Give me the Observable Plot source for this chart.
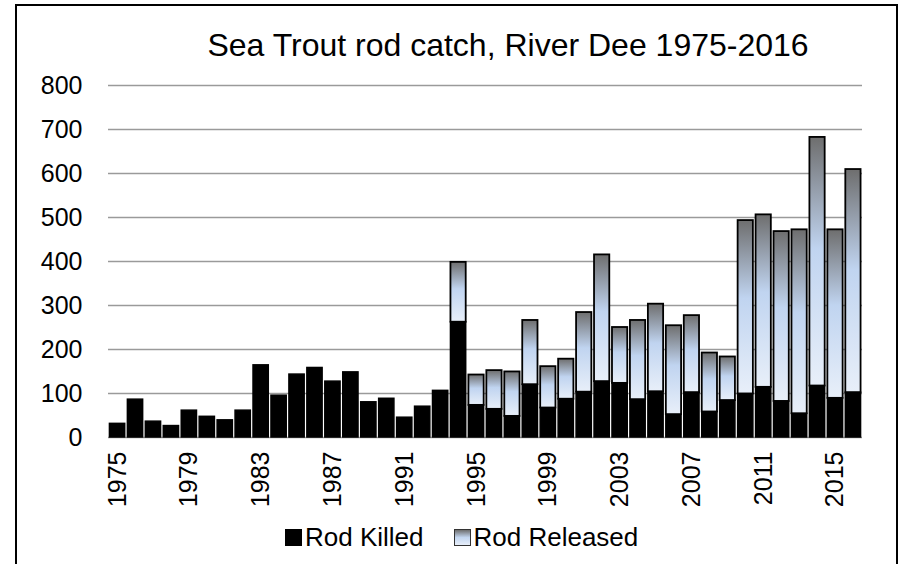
<!DOCTYPE html>
<html>
<head>
<meta charset="utf-8">
<script src="https://cdn.jsdelivr.net/npm/d3@7"></script>
<script src="https://cdn.jsdelivr.net/npm/@observablehq/plot@0.6"></script>
<style>
  html, body { margin: 0; padding: 0; background: #fff; overflow: hidden; }
  #wrap { position: relative; width: 901px; height: 564px; font-family: "Liberation Sans", Arial, sans-serif; }
  #frame { position: absolute; left: 15px; top: 4px; width: 883px; height: 620px; border: 2px solid #000; box-sizing: border-box; }
  #title { position: absolute; left: 0; width: 1016px; top: 27px; text-align: center; font-size: 32px; color: #000; white-space: nowrap; }
  #chart { position: absolute; left: 0; top: 0; }
  #legend { position: absolute; top: 522px; left: 285px; font-size: 26px; display: flex; align-items: center; white-space: nowrap; color: #000; }
  .sw { display: inline-block; width: 17px; height: 17px; margin-right: 3px; box-sizing: border-box; }
</style>
</head>
<body>
<div id="wrap">
  <div id="frame"></div>
  <div id="title">Sea Trout rod catch, River Dee 1975-2016</div>
  <div id="chart"></div>
  <div id="legend">
    <span class="sw" style="background:#000;border:1px solid #000"></span><span>Rod Killed</span>
    <span style="display:inline-block;width:30px"></span>
    <span class="sw" style="background:linear-gradient(#6e6e6e,#c3d6f0 50%,#e7eef9);border:1.5px solid #333"></span><span>Rod Released</span>
  </div>
</div>
<script>
const years = d3.range(1975, 2017);
const killed = [31, 86, 36, 26, 61, 47, 39, 61, 164, 95, 143, 158, 127, 148, 80, 88, 45, 70, 106, 262,
  73, 64, 48, 120, 67, 87, 103, 127, 123, 86, 104, 52, 102, 58, 84, 99, 114, 82, 54, 117, 89, 102];
const total = [31, 86, 36, 26, 61, 47, 39, 61, 164, 95, 143, 158, 127, 148, 80, 88, 45, 70, 106, 398,
  142, 152, 149, 266, 161, 178, 284, 415, 250, 266, 303, 254, 277, 192, 183, 493, 506, 468, 472, 682, 472, 609];
const released = total.map((t, i) => t - killed[i]);
const yTicks = [0, 100, 200, 300, 400, 500, 600, 700, 800];
const xTicks = [1975, 1979, 1983, 1987, 1991, 1995, 1999, 2003, 2007, 2011, 2015];

const rows = years.map((y, i) => ({year: y, killed: killed[i], released: released[i], total: killed[i] + released[i]}));

const plot = Plot.plot({
  width: 901,
  height: 520,
  marginLeft: 108,
  marginRight: 39,
  marginTop: 85,
  marginBottom: 83,
  style: {fontFamily: "'Liberation Sans', Arial, sans-serif", background: "transparent", color: "#000"},
  x: {type: "band", domain: years, paddingInner: 0.15, paddingOuter: 0.08},
  y: {domain: [0, 800]},
  marks: [
    Plot.ruleY(yTicks, {stroke: "#9a9a9a", strokeWidth: 1.3}),
    Plot.barY(rows, {x: "year", y1: 0, y2: "killed", fill: "#000", stroke: "#000", strokeWidth: 1.5}),
    Plot.barY(rows.filter(d => d.released > 0), {x: "year", y1: "killed", y2: "total", fill: "url(#relGrad)", stroke: "#000", strokeWidth: 1.8}),
    Plot.axisY({ticks: yTicks, tickSize: 0, tickPadding: 26, fontSize: 25, tickFormat: d => String(d), label: null}),
    Plot.axisX({ticks: xTicks, tickSize: 0, tickPadding: 14, tickRotate: -90, fontSize: 25, tickFormat: d => String(d), label: null})
  ]
});

const svg = d3.select(plot);
const defs = svg.insert("defs", ":first-child");
const g = defs.append("linearGradient").attr("id", "relGrad").attr("x1", 0).attr("y1", 0).attr("x2", 0).attr("y2", 1);
g.append("stop").attr("offset", "0%").attr("stop-color", "#6e6e6e");
g.append("stop").attr("offset", "45%").attr("stop-color", "#c0d4f0");
g.append("stop").attr("offset", "100%").attr("stop-color", "#e8eff9");

document.getElementById("chart").appendChild(plot);
</script>
</body>
</html>
